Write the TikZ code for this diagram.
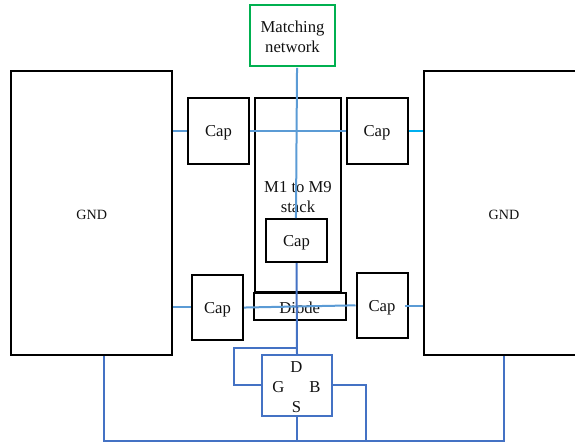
\documentclass[tikz,border=0pt]{standalone}
\usepackage{fontspec}
\setmainfont{Liberation Serif}
\definecolor{lineblue}{HTML}{5B9BD5}
\definecolor{deepblue}{HTML}{4472C4}
\definecolor{skyline}{HTML}{00B0F0}
\definecolor{matchgreen}{HTML}{00B050}
\definecolor{inktext}{HTML}{111111}
\newcommand{\dn}[1]{\raisebox{-1.4pt}[\height][\depth]{#1}}
\tikzset{
  box/.style={draw=black,line width=1.5pt,inner sep=0pt,align=center,text=inktext,font=\fontsize{12.5}{15}\selectfont},
  gndbox/.style={box,font=\fontsize{10.6}{13}\selectfont},
  greenbox/.style={box,draw=matchgreen},
  fetbox/.style={box,draw=deepblue,line width=1.5pt},
  pinlabel/.style={inner sep=0pt,text=inktext,font=\fontsize{12.5}{15}\selectfont},
  soft/.style={draw=lineblue,line width=1.5pt},
  sky/.style={draw=skyline,line width=1.5pt},
  hard/.style={draw=deepblue,line width=1.5pt},
  sz/.style n args={2}{minimum width=#1*0.75pt,minimum height=#2*0.75pt}
}
\begin{document}
\begin{tikzpicture}[x=0.75pt,y=-0.75pt]
\useasboundingbox (0,0) rectangle (575,444);
% boxes
\node[greenbox,sz={85}{61}] (match) at (292.5,35) {\dn{Matching}\\\dn{network}};
\node[gndbox,sz={161}{284}] (gndl) at (91.75,213) {\dn{GND}};
\node[gndbox,sz={161}{284}] (gndr) at (504,213) {\dn{GND}};
\node[box,sz={61}{66}] (capa) at (218.5,131) {\dn{Cap}};
\node[box,sz={61}{66}] (capb) at (377,131) {\dn{Cap}};
\node[box,sz={86}{194}] (stack) at (298,195) {\dn{M1 to M9}\\\dn{stack}};
\node[box,sz={61}{43}] (capc) at (296.5,240.5) {\dn{Cap}};
\node[box,sz={51}{65}] (capd) at (217.5,307.4) {\dn{Cap}};
\node[box,sz={51}{65}] (cape) at (382,305.6) {\dn{Cap}};
\node[box,sz={92.5}{27}] (diode) at (299.75,306) {\dn{Diode}};
\node[fetbox,sz={70}{61}] (fet) at (297,385.4) {};
\node[pinlabel] (pd) at (296.5,367) {D};
\node[pinlabel] (pg) at (278.5,387.5) {G};
\node[pinlabel] (pb) at (315,387.5) {B};
\node[pinlabel] (ps) at (296.5,407.5) {S};
% free junctions
\coordinate (rail) at (297,441);
\coordinate (tap) at (297,348);
% light connectors
\draw[soft] ([xshift=3.4pt,yshift=-1pt]match.south) -- ([xshift=2.6pt]capc.north -| match.south);
\draw[soft] (gndl.east |- capa.west) -- (capa.west);
\draw[soft] (capa.east) -- (capb.west);
\draw[sky] (capb.east) -- (gndr.west |- capb.east);
\draw[soft] ([yshift=-0.1pt]capd.east) -- ([yshift=0.2pt]cape.west);
\draw[soft] (gndl.east |- capd.west) -- (capd.west);
\draw[soft] ([xshift=-3pt]cape.east) -- (gndr.west |- cape.east);
% dark connectors
\draw[hard] (capc.south) -- (fet.north);
\draw[hard] (tap) -| (234,385.4) -- (fet.west);
\draw[hard] (fet.east) -| (rail -| 366,0);
\draw[hard] (fet.south) -- (rail);
\draw[hard] (gndl.south -| 104,0) |- (rail) -| (gndr.south);
\end{tikzpicture}
\end{document}
